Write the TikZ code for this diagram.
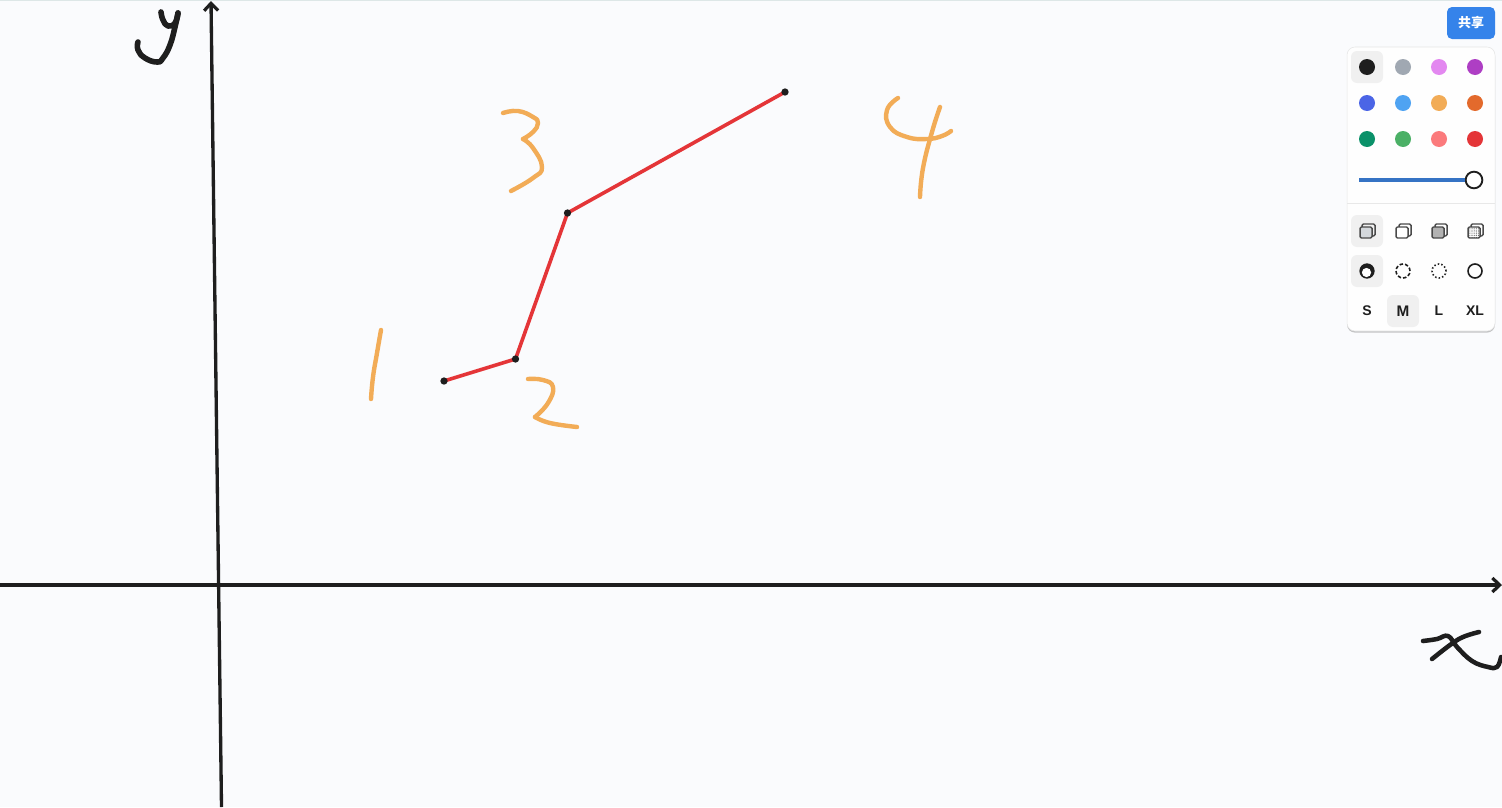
\documentclass[tikz,border=0pt]{standalone}
\usepackage{fontspec}
\setsansfont{Liberation Sans}
\newfontfamily\cjkfont{Noto Sans CJK SC}
\usetikzlibrary{arrows.meta, backgrounds, patterns.meta, shadows}

\definecolor{pagebg}{HTML}{FAFBFD}
\definecolor{topline}{HTML}{DDE7E7}
\definecolor{inkblack}{HTML}{1E1E1E}
\definecolor{inkgrey}{HTML}{A0A8B2}
\definecolor{inkviolet}{HTML}{E388F0}
\definecolor{inkpurple}{HTML}{AE3EC4}
\definecolor{inkblue}{HTML}{4B65E6}
\definecolor{inksky}{HTML}{4FA3F2}
\definecolor{inkorange}{HTML}{F2AC57}
\definecolor{inkrust}{HTML}{E36A2C}
\definecolor{inkteal}{HTML}{0A9169}
\definecolor{inkgreen}{HTML}{4BB066}
\definecolor{inkpink}{HTML}{FB7A7C}
\definecolor{inkred}{HTML}{E43538}
\definecolor{sharebg}{HTML}{3583EA}
\definecolor{sliderblue}{HTML}{3573C4}
\definecolor{selectbg}{HTML}{F0F0F0}
\definecolor{iconline}{HTML}{4A4A4A}

\begin{document}
\begin{tikzpicture}[
  x=0.75pt, y=-0.75pt,
  axis/.style = {line width=2.5pt, draw=inkblack, -{Straight Barb[length=5.5pt, width=10.5pt, line width=2.4pt]}},
  segment/.style = {line width=2.7pt, draw=inkred},
  vertex/.style = {circle, fill=inkblack, inner sep=0pt, minimum size=5.5pt},
  pen/.style = {line width=4.2pt, draw=inkblack, line cap=round, line join=round},
  note/.style = {line width=3.3pt, draw=inkorange, line cap=round, line join=round},
  swatch/.style = {circle, inner sep=0pt, minimum size=12pt},
  selected/.style = {fill=selectbg, rounded corners=4.5pt},
  backsq/.style = {line width=1.1pt, draw=iconline, rounded corners=1pt},
  ring/.style = {circle, draw=inkblack, line width=1.2pt, inner sep=0pt, minimum size=10.5pt},
  size/.style = {font=\sffamily\bfseries\fontsize{10.5}{12}\selectfont, text=inkblack, inner sep=0pt}
]

  \useasboundingbox (0,0) rectangle (1502,807);

  % Page
  \begin{scope}[on background layer]
    \fill[pagebg] (0,0) rectangle (1502,807);
    \draw[topline, line width=0.75pt] (0,0.4) -- (1502,0.4);
  \end{scope}

  % Axes
  \coordinate (xstart) at (0,585);
  \coordinate (xend) at (1502,585);
  \coordinate (ystart) at (221.5,807);
  \coordinate (yend) at (211,1);
  \draw[axis] (xstart) -- (xend);
  \draw[axis] (ystart) -- (yend);

  % Polyline points
  \node[vertex] (pointa) at (444,381) {};
  \node[vertex] (pointb) at (515.5,359) {};
  \node[vertex] (pointc) at (567.5,213) {};
  \node[vertex] (pointd) at (785,92) {};
  \begin{scope}[on background layer]
    \draw[segment] (pointa.center) -- (pointb.center) -- (pointc.center) -- (pointd.center);
  \end{scope}

  % Axis letters
  \draw[pen] plot[smooth, tension=0.8] coordinates {(161,12) (163,20) (168,26) (175,23) (178,13)};
  \draw[pen] plot[smooth, tension=0.8] coordinates {(178,13) (175,27) (170,45) (163,58) (157,62) (145,58) (138,50) (138,42)};
  \draw[pen, line width=3.4pt] plot[smooth, tension=0.7] coordinates {(1423,641) (1437,639) (1448,636) (1457,647) (1472,661) (1488,667) (1497,667) (1501,657)};
  \draw[pen, line width=3.4pt] plot[smooth, tension=0.7] coordinates {(1432,659) (1450,645) (1463,637) (1479,632)};

  % Point numbers
  \draw[note] plot[smooth, tension=0.8] coordinates {(381,330) (377,353) (373,377) (371,399)};
  \draw[note] plot[smooth, tension=0.8] coordinates {(528,379) (543,380) (553,387) (548,403) (535,417)};
  \draw[note] plot[smooth, tension=0.8] coordinates {(535,417) (550,423) (577,427)};
  \draw[note] plot[smooth, tension=0.8] coordinates {(503,113) (518,111) (533,117) (538,123) (533,132) (523,139)};
  \draw[note] plot[smooth, tension=0.8] coordinates {(523,139) (533,148) (542,167) (533,178) (511,191)};
  \draw[note] plot[smooth, tension=0.8] coordinates {(898,98) (887,110) (890,127) (907,137) (927,139) (942,136) (951,131)};
  \draw[note] plot[smooth, tension=0.8] coordinates {(940,107) (932,132) (923,168) (920,197)};

  % Share button
  \node[fill=sharebg, rounded corners=3.75pt, minimum width=36pt, minimum height=24pt, inner sep=0pt,
        text=white, font=\cjkfont\bfseries\fontsize{9.75}{11}\selectfont] (share) at (1471,23) {共享};

  % Panel
  \node[fill=white!70!pagebg, draw=black!10, line width=0.4pt, rounded corners=6pt, minimum width=111pt, minimum height=213pt, inner sep=0pt,
        drop shadow={shadow xshift=0pt, shadow yshift=-1.2pt, opacity=0.45}] (panel) at (1421,189) {};
  \fill[selected] (1351,51) rectangle (1383,83);
  \fill[selected] (1351,215) rectangle (1383,247);
  \fill[selected] (1351,255) rectangle (1383,287);
  \fill[selected] (1387,295) rectangle (1419,327);

  % Colour swatches
  \node[swatch, fill=inkblack] (black) at (1367,67) {};
  \node[swatch, fill=inkgrey] (grey) at (1403,67) {};
  \node[swatch, fill=inkviolet] (violet) at (1439,67) {};
  \node[swatch, fill=inkpurple] (purple) at (1475,67) {};
  \node[swatch, fill=inkblue] (blue) at (1367,103) {};
  \node[swatch, fill=inksky] (sky) at (1403,103) {};
  \node[swatch, fill=inkorange] (orange) at (1439,103) {};
  \node[swatch, fill=inkrust] (rust) at (1475,103) {};
  \node[swatch, fill=inkteal] (teal) at (1367,139) {};
  \node[swatch, fill=inkgreen] (green) at (1403,139) {};
  \node[swatch, fill=inkpink] (pink) at (1439,139) {};
  \node[swatch, fill=inkred] (red) at (1475,139) {};

  % Slider
  \node[circle, draw=inkblack, fill=white, line width=1.4pt, inner sep=0pt, minimum size=12.5pt] (knob) at (1474,180) {};
  \coordinate (slidestart) at (1359,180);
  \draw[sliderblue, line width=2.4pt] (slidestart) -- (knob.west);
  \draw[black!9, line width=0.75pt] (1347,203.5) -- (1495,203.5);

  % Fill icons
  \draw[backsq] (1362,224) rectangle (1375,236);
  \draw[backsq, fill=inkgrey!45] (1360,227) rectangle (1372,238);
  \draw[backsq] (1399,224) rectangle (1411,236);
  \draw[backsq, fill=white] (1396,227) rectangle (1408,238);
  \draw[backsq] (1435,224) rectangle (1447,236);
  \draw[backsq, fill=black!30] (1432,227) rectangle (1444,238);
  \draw[backsq] (1471,224) rectangle (1483,236);
  \fill[white] (1468,227) rectangle (1480,238);
  \draw[backsq, pattern={Dots[distance=1.6pt, radius=0.45pt]}, pattern color=iconline] (1468,227) rectangle (1480,238);

  % Stroke icons
  \node[circle, fill=inkblack, inner sep=0pt, minimum size=11.5pt] (ringsolid) at (1367,271) {};
  \fill[white] (1366.5,272.5) circle[radius=4.6];
  \node[ring, dash pattern=on 2.6pt off 1.5pt] (ringdash) at (1403,271) {};
  \node[ring, dash pattern=on 1.1pt off 1.6pt] (ringdot) at (1439,271) {};
  \node[ring] (ringplain) at (1475,271) {};

  % Sizes
  \node[size] (sizes) at (1367,311) {S};
  \node[size, font=\sffamily\bfseries\fontsize{11.5}{12}\selectfont] (sizem) at (1403,311) {M};
  \node[size] (sizel) at (1439,311) {L};
  \node[size] (sizexl) at (1475,311) {XL};

\end{tikzpicture}
\end{document}
